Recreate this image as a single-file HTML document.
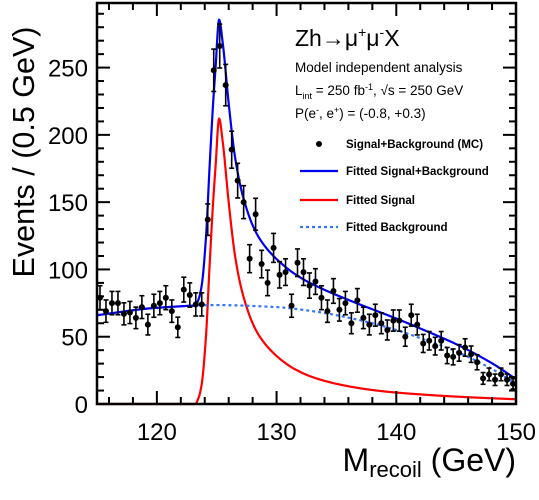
<!DOCTYPE html>
<html><head><meta charset="utf-8"><style>
body{margin:0;background:#fff;}
svg text{font-family:"Liberation Sans",Helvetica,Arial,sans-serif;}
</style></head><body>
<svg id="chart" width="539" height="495" viewBox="0 0 539 495" xmlns="http://www.w3.org/2000/svg">
<g id="curves"></g>
<g id="points"></g>
<g id="axes"></g>
<text transform="translate(34,152) rotate(-90)" text-anchor="middle" font-size="30.5">Events / (0.5 GeV)</text>
<text x="516" y="471" text-anchor="end" font-size="32">M<tspan font-size="22" dy="6">recoil</tspan><tspan dy="-6"> (GeV)</tspan></text>
<g>
<text x="295" y="46" font-size="23">Zh→μ<tspan font-size="14" dy="-9">+</tspan><tspan dy="9">μ</tspan><tspan font-size="14" dy="-9">-</tspan><tspan dy="9">X</tspan></text>
<text x="295" y="72" font-size="13.5">Model independent analysis</text>
<text x="295" y="95" font-size="13.5">L<tspan font-size="9" dy="4">int</tspan><tspan dy="-4"> = 250 fb</tspan><tspan font-size="9" dy="-5">-1</tspan><tspan dy="5">, √s = 250 GeV</tspan></text>
<text x="295" y="118" font-size="13.5">P(e<tspan font-size="9" dy="-5">-</tspan><tspan dy="5">, e</tspan><tspan font-size="9" dy="-5">+</tspan><tspan dy="5">) = (-0.8, +0.3)</tspan></text>
<circle cx="319" cy="144" r="3" fill="#000"/>
<text x="346" y="148" font-size="11.5" font-weight="bold">Signal+Background (MC)</text>
<line x1="300" y1="171" x2="338" y2="171" stroke="#0000ee" stroke-width="2.2"/>
<text x="346" y="175" font-size="11.5" font-weight="bold">Fitted Signal+Background</text>
<line x1="300" y1="200" x2="338" y2="200" stroke="#ff0000" stroke-width="2.2"/>
<text x="346" y="204" font-size="11.5" font-weight="bold">Fitted Signal</text>
<line x1="300" y1="227" x2="338" y2="227" stroke="#3377ff" stroke-width="2.2" stroke-dasharray="3,3"/>
<text x="346" y="231" font-size="11.5" font-weight="bold">Fitted Background</text>
</g>
</svg>
<script>
const counts=[79,69,75,75,67,68,64,72,59,73,75,79,69,57,85,81,74,74,137,248,266,237,189,166,150,108,141,104,90,116,96,98,73,105,98,88,91,79,69,84,70,75,60,77,64,59,66,60,55,62,62,50,66,59,45,47,43,47,36,35,38,42,37,31,19,22,18,22,18,15];
const bkgX=[115,120,125,130,133,135,138,140,142,145,148,150];
const bkgY=[66,71.5,73.5,72,69,66,60,55,49,39,26,15];
const sigX=[115,123.2,123.5,123.75,124.1,124.4,124.7,124.9,125.2,125.5,126,126.5,127,127.5,128,128.6,129.5,130.5,131.5,133,135,137.5,140,145,150];
const sigY=[0,0,5,15,50,102,150,176,212,195,150,112,88,72,60,50,40,32,26,20,15,11,8.5,5.5,3.5];
const xTicks=[120,130,140,150];
const yTicks=[0,50,100,150,200,250];
const X0=115,X1=150,Y1=298;
const L=97,R=516,T=3,B=404;
const sx=v=>L+(v-X0)/(X1-X0)*(R-L);
const sy=v=>B-v/Y1*(B-T);
const NS='http://www.w3.org/2000/svg';
function mk(t,a,p){const e=document.createElementNS(NS,t);for(const k in a)e.setAttribute(k,a[k]);p.appendChild(e);return e;}
function interp(xs,ys,x){
  const n=xs.length;if(x<=xs[0])return ys[0];if(x>=xs[n-1])return ys[n-1];
  const d=[],m=[];for(let i=0;i<n-1;i++)d.push((ys[i+1]-ys[i])/(xs[i+1]-xs[i]));
  m[0]=d[0];m[n-1]=d[n-2];
  for(let i=1;i<n-1;i++){m[i]=(d[i-1]*d[i]<=0)?0:2/(1/d[i-1]+1/d[i]);}
  let i=0;while(x>xs[i+1])i++;
  const h=xs[i+1]-xs[i],t=(x-xs[i])/h,t2=t*t,t3=t2*t;
  return (2*t3-3*t2+1)*ys[i]+(t3-2*t2+t)*h*m[i]+(-2*t3+3*t2)*ys[i+1]+(t3-t2)*h*m[i+1];
}
const cg=document.getElementById('curves');
function curve(f,name,col,dash){
  let d='';for(let x=X0;x<=X1+1e-9;x+=0.02){d+=(d?'L':'M')+sx(x).toFixed(2)+','+sy(Math.min(f(x),Y1)).toFixed(2);}
  const p=mk('path',{d:d,fill:'none',stroke:col,'stroke-width':2.2},cg);
  if(dash)p.setAttribute('stroke-dasharray',dash);
  
  
}
const bkg=x=>interp(bkgX,bkgY,x),sig=x=>interp(sigX,sigY,x);
curve(sig,'signal-curve','#ff0000');
curve(bkg,'background-curve','#3377ff','3,3');
curve(x=>sig(x)+bkg(x),'total-fit-curve','#0000ee');
const pg=document.getElementById('points');
counts.forEach((c,i)=>{
  const x=sx(X0+0.25+0.5*i),e=Math.sqrt(c);
  const g=mk('g',{},pg);
  
  
  mk('line',{x1:x,x2:x,y1:sy(c+e),y2:sy(Math.max(c-e,0)),stroke:'#000','stroke-width':1.6},g);
  mk('line',{x1:x-2.5,x2:x+2.5,y1:sy(c+e),y2:sy(c+e),stroke:'#000','stroke-width':1.6},g);
  mk('line',{x1:x-2.5,x2:x+2.5,y1:sy(c-e),y2:sy(c-e),stroke:'#000','stroke-width':1.6},g);
  mk('circle',{cx:x,cy:sy(c),r:3,fill:'#000'},g);
});
const ag=document.getElementById('axes');
const fr=mk('rect',{x:L,y:T,width:R-L,height:B-T,fill:'none',stroke:'#000','stroke-width':2.5},ag);


for(let v=X0;v<=X1;v+=1){const maj=v%10===0;const len=maj?13:(v%2===0?7:0);if(!len)continue;const x=sx(v);
  mk('line',{x1:x,x2:x,y1:B,y2:B-len,stroke:'#000','stroke-width':2},ag);
  mk('line',{x1:x,x2:x,y1:T,y2:T+len,stroke:'#000','stroke-width':2},ag);}
for(let v=0;v<=Y1;v+=10){const len=v%50===0?13:7;const y=sy(v);
  mk('line',{x1:L,x2:L+len,y1:y,y2:y,stroke:'#000','stroke-width':2},ag);
  mk('line',{x1:R,x2:R-len,y1:y,y2:y,stroke:'#000','stroke-width':2},ag);}
xTicks.forEach(v=>{const t=mk('text',{x:sx(v),y:440,'text-anchor':'middle','font-size':24},ag);t.textContent=v;
  
  });
yTicks.forEach(v=>{const t=mk('text',{x:88,y:sy(v)+9,'text-anchor':'end','font-size':24},ag);t.textContent=v;
  
  });
</script>
</body></html>
